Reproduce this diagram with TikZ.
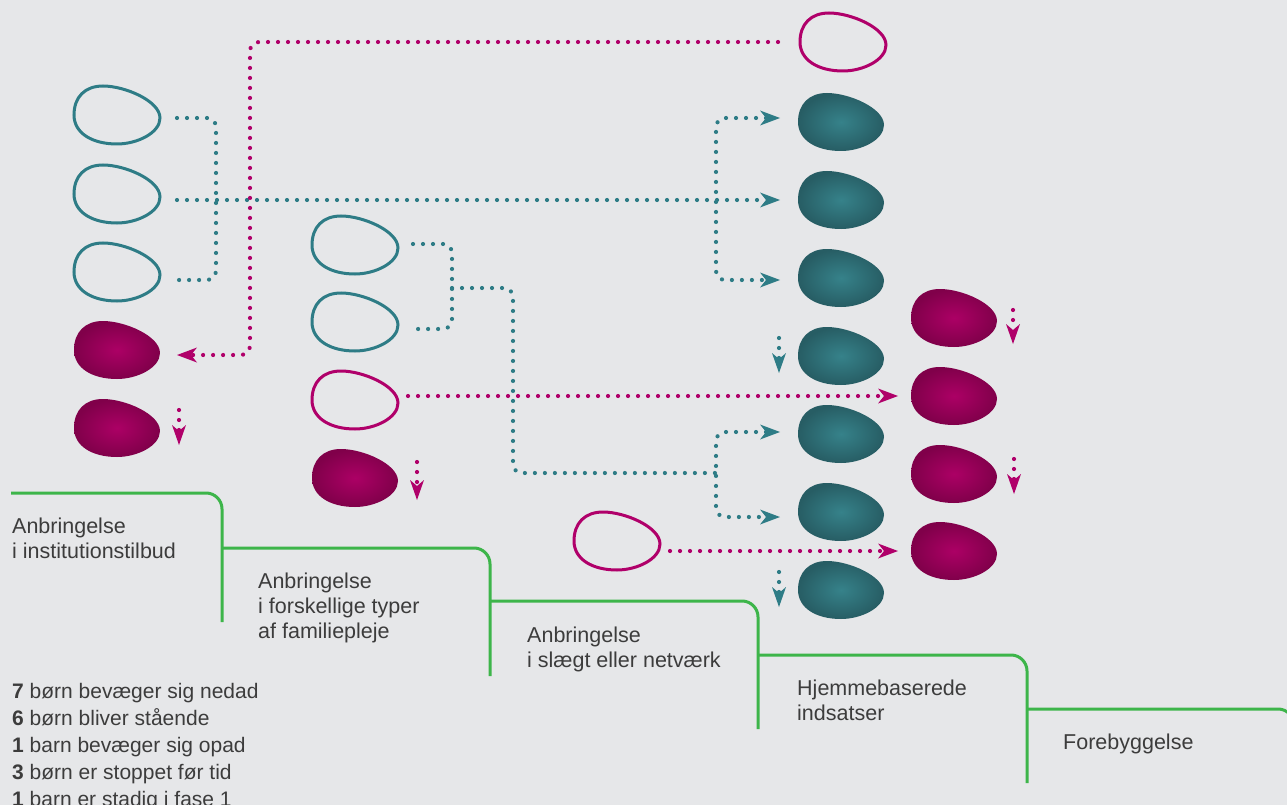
\documentclass[tikz,border=0pt]{standalone}
\usepackage{fontspec}
\setmainfont{Liberation Sans}
\usetikzlibrary{arrows.meta}
\definecolor{bg}{HTML}{E6E7E9}
\definecolor{tealL}{HTML}{2E7C86}
\definecolor{tealC}{HTML}{36828A}
\definecolor{tealE}{HTML}{275D64}
\definecolor{magL}{HTML}{B0006A}
\definecolor{magC}{HTML}{AC0065}
\definecolor{magE}{HTML}{80004A}
\definecolor{grn}{HTML}{3DB54A}
\definecolor{txtc}{HTML}{3C3C3C}
\newcommand{\eggshape}[3]{%
  \path[#1, shift={(#2,#3)}] (-43,0) .. controls (-43,-18) and (-32,-29) .. (-14,-29) .. controls (8,-29) and (43,-14) .. (43,3) .. controls (43,18) and (20,29) .. (0,29) .. controls (-25,29) and (-43,18) .. cycle;}
\newcommand{\egg}[4]{%
  \eggshape{#4}{#2}{#3}
  \node[eggbox] (#1) at (#2,#3) {};}
\tikzset{
  eggbox/.style={minimum width=86pt, minimum height=58pt, inner sep=0pt, outer sep=0pt},
  outT/.style={draw=tealL, line width=3pt},
  outM/.style={draw=magL, line width=3pt},
  fillT/.style={shading=radial, inner color=tealC, outer color=tealE},
  fillM/.style={shading=radial, inner color=magC, outer color=magE},
  tdots/.style={draw=tealL, line width=4.2pt, line cap=round, dash pattern=on 0pt off 10pt, rounded corners=9pt},
  mdots/.style={draw=magL, line width=4.2pt, line cap=round, dash pattern=on 0pt off 10pt, rounded corners=9pt},
  tipH/.tip={Stealth[length=20pt, width=15pt, inset=6pt, line width=0pt]},
  tipV/.tip={Stealth[length=20pt, width=14pt, inset=6pt, line width=0pt]},
  stair/.style={draw=grn, line width=3pt, rounded corners=16pt},
  txt/.style={anchor=base west, inner sep=0pt, text=txtc, font=\fontsize{21.5}{25}\selectfont},
  leg/.style={anchor=base west, inner sep=0pt, text=txtc, font=\fontsize{21}{27}\selectfont},
}
\begin{document}
\begin{tikzpicture}[x=1pt, y=-1pt]
\useasboundingbox (0,0) rectangle (1287,805);
\fill[bg] (0,0) rectangle (1287,805);
\clip (0,0) rectangle (1287,805);

% green staircase
\draw[stair] (11,493) -- (222,493) -- (222,622);
\draw[stair] (222,548) -- (490,548) -- (490,676);
\draw[stair] (490,601) -- (758,601) -- (758,729);
\draw[stair] (758,655) -- (1027,655) -- (1027,783);
\draw[stair] (1027,709) -- (1294,709) -- (1294,805);

% eggs
\egg{t1}{117}{115}{outT}
\egg{t2}{117}{194}{outT}
\egg{t3}{117}{272}{outT}
\egg{m1}{117}{350}{fillM}
\egg{m2}{117}{428}{fillM}
\egg{t4}{355}{245}{outT}
\egg{t5}{355}{322}{outT}
\egg{m3}{355}{400}{outM}
\egg{m4}{355}{478}{fillM}
\egg{m5}{617}{541}{outM}
\egg{m6}{843}{42}{outM}
\egg{f1}{841}{122}{fillT}
\egg{f2}{841}{200}{fillT}
\egg{f3}{841}{278}{fillT}
\egg{f4}{841}{356}{fillT}
\egg{f5}{841}{434}{fillT}
\egg{f6}{841}{512}{fillT}
\egg{f7}{841}{590}{fillT}
\egg{g1}{954}{318}{fillM}
\egg{g2}{954}{396}{fillM}
\egg{g3}{954}{474}{fillM}
\egg{g4}{954}{551}{fillM}

% teal connectors
\draw[tdots] ([shift={(17,3)}]t1.east) -| ([shift={(56,8)}]t3.east) -- ([shift={(17,8)}]t3.east);
\draw[tdots, -tipH] ([shift={(17,6)}]t2.east) -- ([shift={(-18,0)}]f2.west);
\draw[tdots, tipH-tipH] ([shift={(-18,-4)}]f1.west) -| ([shift={(-82,2)}]f3.west) -- ([shift={(-18,2)}]f3.west);
\draw[tdots] ([shift={(15,-1)}]t4.east) -| ([shift={(54,7)}]t5.east) -- ([shift={(15,7)}]t5.east);
\coordinate (j1) at (452,288);
\coordinate (j2) at (716,473);
\draw[tdots] (j1) -- ++(61,0) |- (j2);
\draw[tdots, tipH-tipH] ([shift={(-18,-2)}]f5.west) -| ([shift={(-82,5)}]f6.west) -- ([shift={(-18,5)}]f6.west);

% magenta connectors
\draw[mdots, -tipH] ([shift={(-22,0)}]m6.west) -| ([shift={(90,5)}]m1.east) -- ([shift={(17,5)}]m1.east);
\draw[mdots, -tipH] ([shift={(10,-4)}]m3.east) -- ([shift={(-13,0)}]g2.west);
\draw[mdots, -tipH] ([shift={(10,10)}]m5.east) -- ([shift={(-13,0)}]g4.west);

% short down arrows
\draw[mdots, -tipV] ([shift={(19,-18)}]m2.east) -- ([shift={(19,17)}]m2.east);
\draw[mdots, -tipV] ([shift={(19,-16)}]m4.east) -- ([shift={(19,22)}]m4.east);
\draw[tdots, -tipV] ([shift={(-19,-18)}]f4.west) -- ([shift={(-19,17)}]f4.west);
\draw[mdots, -tipV] ([shift={(16,-8)}]g1.east) -- ([shift={(16,26)}]g1.east);
\draw[mdots, -tipV] ([shift={(17,-15)}]g3.east) -- ([shift={(17,20)}]g3.east);
\draw[tdots, -tipV] ([shift={(-19,-18)}]f7.west) -- ([shift={(-19,17)}]f7.west);

% step labels
\node[txt] (a1) at (12,533) {Anbringelse};
\node[txt] (a2) at (12,558) {i institutionstilbud};
\node[txt] (b1) at (258,588) {Anbringelse};
\node[txt] (b2) at (258,613) {i forskellige typer};
\node[txt] (b3) at (258,638) {af familiepleje};
\node[txt] (c1) at (527,642) {Anbringelse};
\node[txt] (c2) at (527,667) {i slægt eller netværk};
\node[txt] (d1) at (797,695) {Hjemmebaserede};
\node[txt] (d2) at (797,720) {indsatser};
\node[txt] (e1) at (1063,749) {Forebyggelse};

% legend
\node[leg] (k1) at (12,698) {\textbf{7} børn bevæger sig nedad};
\node[leg] (k2) at (12,725) {\textbf{6} børn bliver stående};
\node[leg] (k3) at (12,752) {\textbf{1} barn bevæger sig opad};
\node[leg] (k4) at (12,779) {\textbf{3} børn er stoppet før tid};
\node[leg] (k5) at (12,806) {\textbf{1} barn er stadig i fase 1};
\end{tikzpicture}
\end{document}
